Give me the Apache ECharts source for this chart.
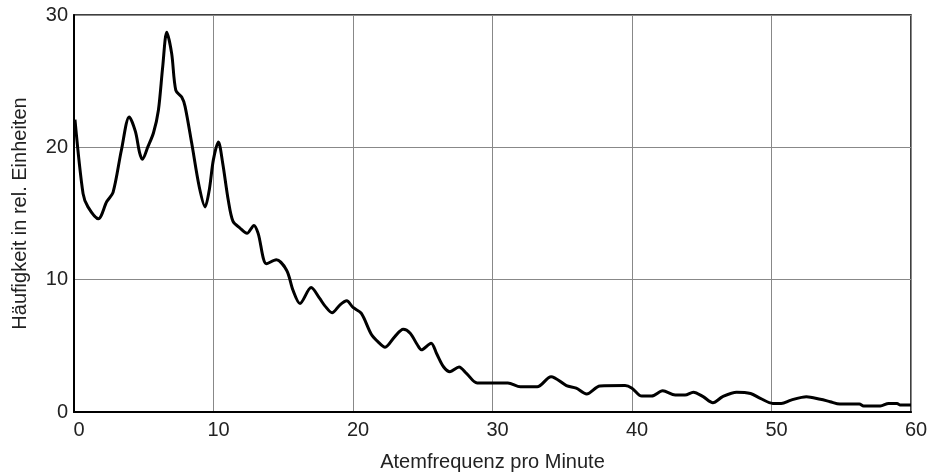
<!DOCTYPE html>
<html>
<head>
<meta charset="utf-8">
<script src="https://cdn.jsdelivr.net/npm/echarts@6/dist/echarts.min.js"></script>
<style>
  html, body { margin: 0; padding: 0; background: #fff; }
  #chart { width: 929px; height: 472px; }
</style>
</head>
<body>
<div id="chart"></div>
<script>
// Atemfrequenz (x) und Häufigkeit (y)
var rate = [0.07, 0.65, 1.0, 1.75, 2.35, 2.8, 3.4, 3.96, 4.4, 4.7, 4.9, 5.3, 5.7, 6.05, 6.36, 6.65, 7.0, 7.3, 7.72, 7.96,
  8.44, 8.98, 9.4, 9.7, 9.99, 10.35, 10.66, 11.06, 11.4, 11.9, 12.4, 12.9, 13.2, 13.8, 14.5, 15.25, 15.7, 16.2, 17.0, 17.6,
  18.0, 18.5, 19.07, 19.55, 20.0, 20.6, 21.3, 21.8, 22.3, 23.0, 23.6, 24.1, 24.6, 24.9, 25.6, 26.0, 26.5, 26.95, 27.6, 28.15,
  28.9, 31.1, 32.0, 33.2, 34.2, 35.3, 36.0, 36.75, 37.7, 39.5, 40.0, 40.7, 41.4, 42.2, 43.1, 43.8, 44.4, 45.1, 45.8, 46.5,
  47.5, 48.5, 49.2, 50.1, 50.7, 51.4, 52.5, 53.5, 54.2, 54.9, 56.3, 56.6, 57.8, 58.4, 59.0, 59.2, 60.0];
var freq = [22.1, 16.5, 15.5, 14.6, 15.9, 16.6, 19.8, 22.3, 21.2, 19.6, 19.1, 20.05, 21.1, 22.8, 26.1, 28.7, 27.1, 24.3, 23.8, 23.1,
  20.3, 17.0, 15.5, 16.8, 19.05, 20.4, 18.8, 16.0, 14.4, 13.9, 13.5, 14.1, 13.5, 11.2, 11.5, 10.7, 9.2, 8.2, 9.4, 8.6,
  8.0, 7.5, 8.1, 8.4, 7.9, 7.45, 5.9, 5.3, 4.9, 5.7, 6.25, 5.95, 5.1, 4.7, 5.2, 4.4, 3.4, 3.05, 3.4, 2.9,
  2.2, 2.2, 1.9, 1.9, 2.67, 2.0, 1.8, 1.36, 1.97, 2.0, 1.8, 1.2, 1.2, 1.6, 1.28, 1.28, 1.5, 1.16, 0.7, 1.16,
  1.5, 1.4, 1.03, 0.65, 0.65, 0.9, 1.16, 0.96, 0.78, 0.6, 0.6, 0.45, 0.45, 0.65, 0.65, 0.53, 0.53];

var points = rate.map(function (x, i) { return [x, freq[i]]; });

var chart = echarts.init(document.getElementById('chart'));
var font = 'Liberation Sans, Arial, sans-serif';
var option = {
  backgroundColor: '#ffffff',
  animation: false,
  grid: {
    left: 74, right: 18, top: 15, bottom: 60,
    outerBoundsMode: 'none',
    containLabel: false,
    show: true,
    borderColor: '#000',
    borderWidth: 1.5
  },
  xAxis: {
    type: 'value',
    min: 0, max: 60, interval: 10,
    name: 'Atemfrequenz pro Minute',
    nameLocation: 'middle',
    nameGap: 40,
    nameTextStyle: { fontFamily: font, fontSize: 20, color: '#222' },
    axisLine: { lineStyle: { color: '#000', width: 2 } },
    axisTick: { show: false },
    axisLabel: { fontFamily: font, fontSize: 20, color: '#222', margin: 8, padding: [0, 0, 0, 10] },
    splitLine: { show: true, lineStyle: { color: '#888', width: 1 } }
  },
  yAxis: {
    type: 'value',
    min: 0, max: 30, interval: 10,
    name: 'Häufigkeit in rel. Einheiten',
    nameLocation: 'middle',
    nameGap: 44,
    nameTextStyle: { fontFamily: font, fontSize: 20, color: '#222' },
    axisLine: { show: true, lineStyle: { color: '#000', width: 2 } },
    axisTick: { show: false },
    axisLabel: { fontFamily: font, fontSize: 20, color: '#222', margin: 6, padding: [6, 0, 0, 0] },
    splitLine: { show: true, lineStyle: { color: '#888', width: 1 } }
  },
  series: [{
    type: 'line',
    data: points,
    smooth: 0.3,
    symbol: 'none',
    lineStyle: { color: '#000', width: 3 }
  }]
};
chart.setOption(option);
</script>
</body>
</html>
